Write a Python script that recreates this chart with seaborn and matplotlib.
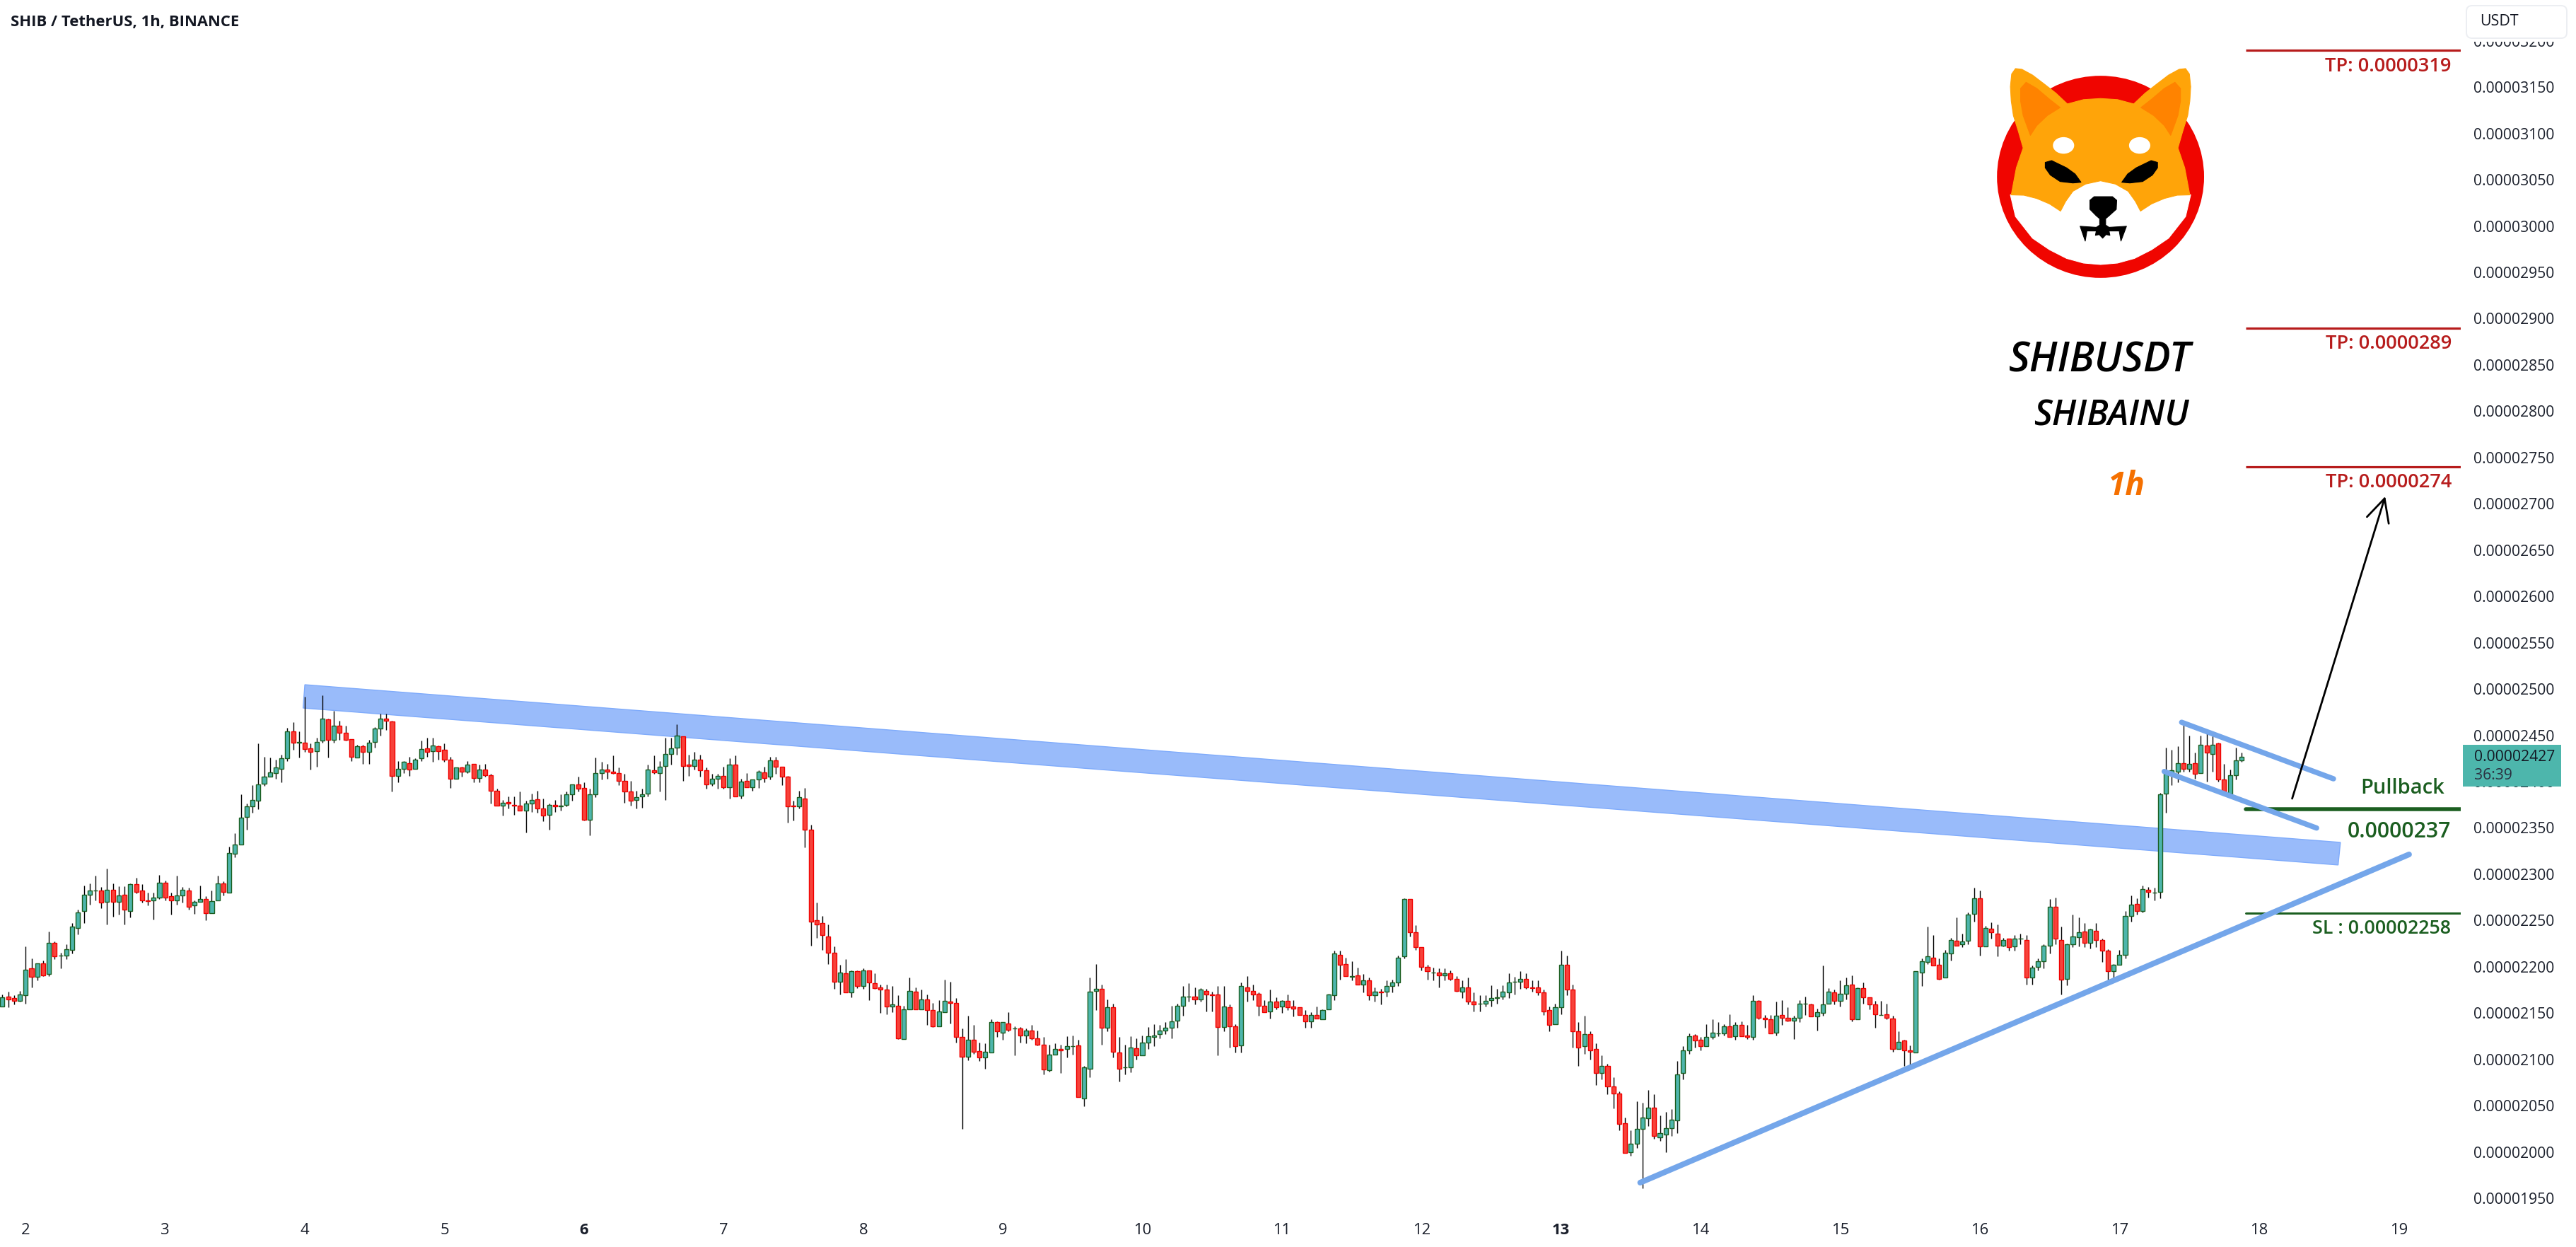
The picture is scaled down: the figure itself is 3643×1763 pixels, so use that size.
import numpy as np
import seaborn as sns
import matplotlib
matplotlib.use("Agg")
import matplotlib.pyplot as plt
from matplotlib.patches import Ellipse, Polygon, FancyBboxPatch, Rectangle

# Hourly candles, prices in units of 1e-8 USDT
OPEN = [2157,2168,2166,2163,2169,2198,2189,2204,2192,2226,
2212,2212,2218,2242,2260,2278,2282,2282,2270,2283,
2270,2278,2260,2289,2282,2272,2272,2275,2291,2276,
2272,2277,2282,2266,2270,2273,2258,2272,2290,2280,
2322,2332,2362,2373,2379,2398,2405,2409,2414,2425,
2454,2442,2442,2436,2433,2444,2467,2445,2460,2453,
2446,2426,2438,2432,2443,2457,2468,2465,2406,2414,
2420,2414,2425,2436,2433,2438,2434,2424,2403,2415,
2411,2419,2404,2413,2407,2390,2374,2378,2375,2374,
2369,2376,2381,2371,2364,2375,2373,2375,2386,2397,
2393,2359,2386,2409,2413,2411,2409,2401,2389,2380,
2384,2387,2412,2409,2417,2430,2437,2449,2418,2417,
2424,2412,2398,2403,2406,2394,2418,2385,2401,2394,
2402,2410,2405,2423,2416,2405,2374,2373,2382,2348,
2250,2247,2233,2215,2184,2193,2172,2195,2179,2196,
2182,2178,2175,2157,2158,2122,2154,2173,2154,2165,
2153,2136,2151,2162,2161,2124,2103,2121,2109,2102,
2107,2140,2129,2139,2133,2133,2126,2131,2123,2116,
2088,2105,2111,2111,2114,2115,2058,2090,2174,2176,
2134,2156,2107,2091,2091,2112,2104,2118,2124,2127,
2131,2134,2142,2158,2168,2168,2165,2174,2170,2170,
2135,2156,2136,2115,2178,2174,2171,2158,2152,2162,
2157,2163,2157,2156,2148,2141,2148,2143,2154,2169,
2213,2203,2189,2191,2181,2185,2169,2173,2173,2179,
2183,2211,2273,2237,2221,2200,2194,2194,2191,2193,
2187,2173,2178,2162,2160,2160,2164,2166,2168,2172,
2184,2184,2187,2178,2178,2172,2153,2138,2156,2202,
2175,2130,2114,2127,2111,2085,2093,2071,2063,2031,
2000,2009,2025,2036,2048,2016,2019,2026,2034,2085,
2110,2126,2121,2114,2124,2128,2128,2136,2125,2137,
2126,2124,2163,2145,2143,2129,2148,2145,2142,2145,
2160,2159,2146,2150,2160,2172,2163,2171,2181,2143,
2177,2167,2159,2148,2149,2144,2111,2120,2110,2107,
2194,2205,2210,2202,2188,2214,2228,2224,2228,2257,
2274,2222,2241,2236,2223,2230,2222,2230,2229,2188,
2200,2206,2223,2265,2229,2187,2224,2232,2238,2226,
2239,2229,2217,2195,2202,2213,2255,2268,2260,2283,
2280,2281,2387,2408,2411,2420,2414,2420,2409,2439,
2430,2441,2402,2387,2407,2423]

HIGH = [2170,2173,2169,2174,2222,2209,2204,2207,2238,2227,
2215,2224,2247,2262,2288,2290,2298,2286,2306,2290,
2287,2287,2290,2296,2289,2280,2280,2299,2293,2280,
2298,2286,2285,2272,2288,2276,2282,2298,2292,2330,
2344,2386,2376,2396,2441,2427,2426,2424,2429,2458,
2464,2454,2492,2441,2447,2493,2468,2476,2466,2460,
2446,2440,2440,2445,2459,2473,2473,2466,2422,2422,
2427,2425,2444,2447,2447,2439,2441,2427,2415,2416,
2422,2419,2418,2419,2408,2392,2380,2384,2384,2389,
2379,2387,2390,2382,2376,2380,2386,2389,2397,2405,
2399,2392,2426,2421,2419,2428,2415,2408,2401,2390,
2392,2418,2428,2422,2447,2447,2462,2449,2429,2432,
2429,2415,2408,2408,2416,2425,2428,2403,2409,2402,
2412,2416,2427,2427,2416,2406,2379,2390,2393,2353,
2269,2255,2246,2222,2202,2208,2196,2196,2198,2196,
2193,2181,2181,2179,2169,2158,2188,2178,2175,2170,
2161,2164,2186,2184,2166,2133,2147,2137,2118,2117,
2143,2141,2140,2151,2136,2135,2133,2137,2131,2124,
2116,2117,2116,2125,2126,2121,2093,2188,2203,2181,
2165,2160,2124,2116,2125,2123,2126,2135,2138,2137,
2140,2158,2160,2179,2182,2178,2177,2176,2173,2179,
2179,2159,2138,2183,2190,2181,2172,2164,2175,2167,
2164,2170,2164,2156,2153,2151,2157,2154,2171,2217,
2217,2210,2206,2199,2192,2188,2178,2176,2185,2186,
2212,2274,2273,2245,2221,2202,2199,2198,2198,2196,
2190,2185,2188,2172,2169,2169,2180,2176,2180,2193,
2189,2195,2193,2185,2185,2175,2157,2160,2217,2212,
2181,2140,2147,2130,2117,2104,2095,2081,2065,2037,
2023,2055,2053,2067,2062,2039,2043,2046,2098,2114,
2128,2127,2124,2138,2143,2140,2138,2149,2140,2141,
2137,2169,2164,2148,2148,2162,2164,2156,2147,2164,
2168,2160,2155,2201,2177,2175,2185,2188,2191,2178,
2183,2167,2163,2163,2160,2147,2130,2121,2115,2195,
2209,2243,2234,2209,2218,2231,2253,2236,2259,2285,
2282,2244,2248,2246,2231,2230,2234,2236,2234,2201,
2209,2224,2273,2275,2243,2225,2256,2253,2247,2241,
2247,2230,2219,2203,2218,2260,2277,2274,2288,2286,
2285,2388,2437,2434,2438,2463,2450,2431,2450,2453,
2451,2442,2419,2413,2437,2431]

LOW = [2157,2156,2159,2162,2160,2178,2185,2190,2190,2208,
2198,2208,2214,2235,2247,2267,2272,2263,2246,2254,
2256,2246,2253,2279,2269,2266,2251,2273,2272,2256,
2267,2269,2262,2257,2270,2250,2258,2272,2277,2280,
2318,2332,2348,2366,2370,2395,2405,2403,2399,2422,
2434,2426,2432,2413,2416,2442,2426,2442,2445,2444,
2422,2426,2419,2419,2437,2450,2456,2389,2399,2409,
2406,2414,2422,2427,2421,2424,2421,2393,2403,2405,
2409,2399,2399,2405,2376,2374,2363,2371,2364,2369,
2345,2367,2366,2357,2348,2367,2369,2373,2379,2389,
2358,2342,2383,2402,2403,2408,2396,2377,2374,2371,
2372,2384,2408,2389,2380,2418,2429,2401,2406,2413,
2405,2392,2395,2392,2392,2382,2384,2382,2394,2390,
2393,2399,2402,2408,2396,2356,2358,2371,2329,2223,
2231,2218,2203,2176,2170,2172,2167,2177,2176,2164,
2176,2150,2149,2151,2122,2122,2154,2154,2154,2137,
2135,2136,2151,2139,2118,2025,2099,2106,2098,2090,
2107,2124,2121,2130,2104,2118,2117,2121,2115,2084,
2087,2105,2085,2102,2105,2059,2049,2081,2153,2116,
2130,2102,2076,2084,2086,2100,2104,2111,2114,2123,
2127,2123,2134,2147,2162,2159,2162,2152,2152,2104,
2130,2113,2107,2107,2162,2164,2147,2151,2144,2154,
2150,2153,2146,2148,2134,2134,2144,2143,2154,2164,
2186,2190,2185,2181,2172,2164,2162,2159,2168,2172,
2179,2209,2233,2218,2196,2186,2185,2178,2185,2185,
2173,2166,2159,2152,2152,2157,2157,2160,2165,2166,
2170,2176,2176,2173,2169,2148,2130,2138,2149,2169,
2113,2093,2106,2100,2072,2078,2062,2047,2023,1999,
1996,2004,1961,2028,2014,2012,2000,2017,2020,2078,
2106,2113,2110,2114,2122,2125,2126,2124,2121,2125,
2122,2121,2143,2134,2128,2126,2137,2141,2122,2140,
2148,2146,2131,2147,2160,2159,2157,2165,2141,2143,
2160,2154,2134,2148,2143,2108,2111,2093,2094,2107,
2179,2203,2201,2186,2188,2207,2223,2221,2224,2249,
2212,2222,2230,2211,2222,2217,2217,2224,2181,2181,
2196,2198,2214,2224,2170,2180,2221,2222,2221,2220,
2221,2205,2186,2185,2202,2209,2249,2256,2259,2275,
2272,2274,2366,2396,2399,2411,2411,2403,2409,2400,
2411,2400,2387,2387,2402,2421]

CLOSE = [2167,2165,2163,2170,2197,2189,2204,2191,2226,2211,
2212,2219,2243,2259,2278,2282,2282,2269,2283,2270,
2277,2262,2289,2281,2272,2271,2275,2291,2275,2272,
2277,2283,2265,2270,2273,2258,2271,2290,2281,2323,
2332,2361,2373,2380,2397,2405,2410,2415,2425,2454,
2442,2443,2435,2432,2443,2468,2445,2460,2453,2445,
2427,2438,2432,2442,2457,2468,2466,2406,2414,2421,
2413,2424,2435,2432,2439,2433,2424,2403,2415,2411,
2418,2404,2413,2407,2390,2374,2377,2376,2374,2369,
2376,2380,2371,2363,2375,2373,2374,2386,2397,2392,
2359,2386,2409,2413,2411,2409,2401,2389,2379,2383,
2386,2413,2410,2416,2430,2436,2450,2417,2417,2424,
2412,2397,2403,2406,2394,2418,2384,2400,2394,2402,
2411,2404,2423,2416,2405,2373,2373,2383,2348,2249,
2246,2234,2215,2184,2194,2172,2195,2179,2196,2183,
2177,2175,2157,2159,2123,2154,2174,2154,2165,2153,
2136,2152,2163,2161,2124,2103,2121,2108,2102,2108,
2140,2130,2140,2132,2133,2126,2131,2123,2116,2089,
2105,2111,2110,2114,2114,2059,2091,2173,2176,2134,
2156,2108,2090,2091,2113,2104,2118,2125,2126,2131,
2134,2141,2158,2168,2168,2165,2175,2170,2169,2135,
2157,2136,2114,2179,2174,2170,2158,2151,2162,2156,
2163,2156,2155,2148,2141,2148,2144,2153,2170,2214,
2202,2190,2190,2181,2185,2169,2173,2172,2179,2183,
2210,2273,2237,2221,2200,2195,2194,2191,2193,2187,
2174,2178,2162,2159,2160,2163,2166,2167,2173,2183,
2184,2187,2178,2177,2172,2152,2137,2156,2202,2175,
2130,2113,2127,2110,2085,2093,2071,2063,2030,1999,
2009,2025,2037,2048,2017,2020,2026,2035,2084,2110,
2125,2120,2114,2124,2129,2128,2136,2124,2137,2125,
2124,2163,2145,2143,2128,2147,2145,2142,2145,2160,
2160,2146,2151,2159,2173,2163,2171,2180,2143,2177,
2167,2159,2149,2148,2145,2111,2119,2110,2108,2195,
2206,2211,2201,2187,2215,2229,2223,2227,2256,2274,
2222,2242,2237,2223,2229,2221,2230,2230,2188,2199,
2206,2223,2265,2230,2186,2224,2233,2237,2226,2240,
2229,2217,2195,2202,2213,2255,2267,2260,2284,2281,
2280,2386,2408,2412,2420,2414,2419,2408,2440,2431,
2440,2402,2387,2407,2423,2427]

DAY_LABELS = list(range(2, 20))
BOLD_DAYS = [6, 13]
FIRST_DAY_BAR = 4
BARS_PER_DAY = 24
PRICE_TICKS = list(range(1950, 3201, 50))

TP_LEVELS = [3190, 2890, 2740]
TP_LABELS = ["TP: 0.0000319", "TP: 0.0000289", "TP: 0.0000274"]
PULLBACK = 2370
STOP = 2258
LEVEL_X = [385.7, 423.0]

BAND_X = [52.0, 402.0, 401.6, 51.7]
BAND_Y = [2504.6, 2334.3, 2309.9, 2479.4]
TREND_X = [281.6, 413.8]
TREND_Y = [1966.8, 2321.3]
FLAG_TOP_X = [374.7, 400.8]
FLAG_TOP_Y = [2464, 2403]
FLAG_LOW_X = [371.7, 397.9]
FLAG_LOW_Y = [2410.9, 2349.8]
ARROW_FROM = (393.7, 2381.6)
ARROW_TO = (409.7, 2708)

sns.set_theme(style="white")
FONT = ["Open Sans", "DejaVu Sans"]
plt.rcParams["font.family"] = FONT

W, H = 3643, 1763
fig = plt.figure(figsize=(W / 100, H / 100), dpi=100, facecolor="white")
AX_RIGHT, AX_BOTTOM = 3480, 1715
ax = fig.add_axes([0, 1 - AX_BOTTOM / H, AX_RIGHT / W, AX_BOTTOM / H])

o, h, l, c = map(np.array, (OPEN, HIGH, LOW, CLOSE))
x = np.arange(len(o))
up = c >= o
BODY_UP, EDGE_UP = "#4DB6AC", "#1B5E20"
BODY_DN, EDGE_DN = "#F7423A", "#F00000"

ax.add_patch(Polygon(np.column_stack([BAND_X, BAND_Y]), closed=True,
                     facecolor="#99BBFA", edgecolor="#7FABFB", lw=1.0, zorder=1))

ax.vlines(x, l, h, color="black", lw=1.0, zorder=2)
ax.bar(x, np.abs(c - o), bottom=np.minimum(o, c), width=0.74,
       color=np.where(up, BODY_UP, BODY_DN),
       edgecolor=np.where(up, EDGE_UP, EDGE_DN), linewidth=1.0, zorder=3)


def seg(xs, ys, color, lw_px, cap="round", z=4):
    sns.lineplot(x=xs, y=ys, ax=ax, color=color, lw=lw_px * 0.72, estimator=None,
                 sort=False, legend=False, zorder=z, solid_capstyle=cap)


for v in TP_LEVELS:
    seg(LEVEL_X, [v, v], "#B71C1C", 3.2, "butt")
seg(LEVEL_X, [PULLBACK, PULLBACK], "#1B5E20", 5.5, "round")
seg(LEVEL_X, [STOP, STOP], "#1B5E20", 3.0, "round")
seg(TREND_X, TREND_Y, "#74A6EA", 8.0, z=5)
seg(FLAG_TOP_X, FLAG_TOP_Y, "#74A6EA", 7.5, z=5)
seg(FLAG_LOW_X, FLAG_LOW_Y, "#74A6EA", 7.5, z=5)
ax.annotate("", xy=ARROW_TO, xytext=ARROW_FROM, zorder=6,
            arrowprops=dict(arrowstyle="->", color="black", lw=2.0,
                            mutation_scale=58, shrinkA=0, shrinkB=0))

ax.set_xlim((0 - 3.4) / 8.225, (AX_RIGHT - 3.4) / 8.225)
ax.set_ylim(1950 + (1694 - AX_BOTTOM) / 1.309, 1950 + 1694 / 1.309)

ax.yaxis.tick_right()
ax.set_yticks(PRICE_TICKS)
ax.set_yticklabels([f"{v / 1e8:.8f}" for v in PRICE_TICKS], fontsize=15.2, color="#1a1f2b")
ax.tick_params(axis="y", length=0, pad=13)
ax.set_xticks([FIRST_DAY_BAR + i * BARS_PER_DAY for i in range(len(DAY_LABELS))])
ax.set_xticklabels([str(d) for d in DAY_LABELS], fontsize=15.8, color="#1a1f2b")
for lab, d in zip(ax.get_xticklabels(), DAY_LABELS):
    if d in BOLD_DAYS:
        lab.set_fontweight("bold")
ax.tick_params(axis="x", length=0, pad=10)
ax.grid(False)
for s in ax.spines.values():
    s.set_visible(False)
ax.set_xlabel("")
ax.set_ylabel("")

pix = fig.add_axes([0, 0, 1, 1], zorder=5)
pix.set_xlim(0, W)
pix.set_ylim(H, 0)
pix.axis("off")
pix.patch.set_alpha(0)

pix.text(15, 31, "SHIB / TetherUS, 1h, BINANCE", fontsize=15.8, fontweight="bold",
         color="#131722", va="center", ha="left")
pix.add_patch(Rectangle((3483, 0), 160, 59, fc="white", ec="none", zorder=2))
pix.add_patch(FancyBboxPatch((3488, 8), 142, 46, boxstyle="round,pad=0,rounding_size=8",
                             fc="white", ec="#eceef2", lw=1.4, zorder=3))
pix.text(3507, 30, "USDT", fontsize=15.4, color="#131722", va="center", ha="left", zorder=4)

pix.add_patch(Rectangle((3483, 1053), 139.5, 59, fc="#4DB6AC", ec="none", zorder=3))
pix.text(3499, 1070, "0.00002427", fontsize=15.2, color="#131722", va="center", ha="left", zorder=4)
pix.text(3499, 1096, "36:39", fontsize=15.2, color="#2b3040", va="center", ha="left", zorder=4)

RED_T = "#B71C1C"
for label, yy in zip(TP_LABELS, [94, 486, 682]):
    pix.text(3467, yy, label, fontsize=19.6, color=RED_T, va="center", ha="right", fontweight="semibold")
GREEN_T = "#1B5E20"
pix.text(3457, 1114, "Pullback", fontsize=21, color=GREEN_T, va="center", ha="right", fontweight="semibold")
pix.text(3466, 1176, "0.0000237", fontsize=21.8, color=GREEN_T, va="center", ha="right", fontweight="semibold")
pix.text(3466, 1313, "SL : 0.00002258", fontsize=19.4, color=GREEN_T, va="center", ha="right", fontweight="semibold")

pix.text(2970, 510, "SHIBUSDT", fontsize=41.5, style="italic", color="black", va="center", ha="center", fontweight="semibold")
pix.text(2986, 588, "SHIBAINU", fontsize=36, style="italic", color="black", va="center", ha="center", fontweight="semibold")
pix.text(3007, 688, "1h", fontsize=33, style="italic", color="#F57000", va="center", ha="center", fontweight="bold")


def P(xz, yz):
    return (2700 + xz / 1.663, yz / 1.96)


def poly(points, color, z=6):
    pts = [P(*q) for q in points]
    pix.add_patch(Polygon(pts, closed=True, fc=color, ec=color, lw=0.8, joinstyle="round", zorder=z))


def mirror(points, cx=450):
    return [(2 * cx - a, b) for a, b in points]


ORANGE, DEEP = "#FFA409", "#FF8300"
cx, cy = P(450, 490)
pix.add_patch(Ellipse((cx, cy), 487 / 1.663, 560 / 1.96, fc="#F00500", ec="none", zorder=5))
poly([(238, 540), (250, 600), (290, 660), (330, 692), (370, 716), (410, 729), (450, 733),
      (490, 729), (530, 716), (570, 692), (610, 660), (650, 600), (662, 540), (450, 400)], "white")
left_half = [(450, 273), (410, 276), (372, 288), (345, 258), (320, 235), (290, 208), (265, 192), (250, 190),
             (241, 205), (238, 240), (240, 280), (245, 320), (257, 365), (268, 410), (252, 465), (240, 540),
             (270, 541), (300, 550), (330, 565), (356, 585), (368, 558), (385, 530), (415, 510), (450, 501)]
poly(left_half + mirror(left_half)[::-1], ORANGE, z=7)
ear_l = [(285, 375), (268, 320), (262, 280), (262, 245), (275, 228), (300, 245), (330, 275), (355, 298),
         (325, 320), (300, 348)]
poly(ear_l, DEEP, z=8)
poly(mirror(ear_l), DEEP, z=8)
for ex in (363, 542):
    e = P(ex, 403)
    pix.add_patch(Ellipse(e, 50 / 1.663, 46 / 1.96, fc="white", ec="none", zorder=8))
eye_l = [(320, 450), (335, 445), (370, 465), (390, 482), (404, 505), (385, 507), (355, 503), (332, 485), (320, 465)]
poly(eye_l, "black", z=8)
poly(mirror(eye_l, 452), "black", z=8)
poly([(425, 555), (435, 545), (478, 545), (488, 555), (487, 580), (470, 598), (462, 606), (462, 622), (448, 622),
      (448, 606), (440, 598), (425, 580)], "black", z=8)
poly([(402, 627), (440, 630), (455, 618), (470, 630), (511, 627), (498, 668), (494, 640), (470, 640), (472, 652),
      (463, 650), (455, 660), (447, 650), (438, 652), (440, 640), (418, 640), (414, 668)], "black", z=8)

fig.savefig("out.png", dpi=100, facecolor="white")
